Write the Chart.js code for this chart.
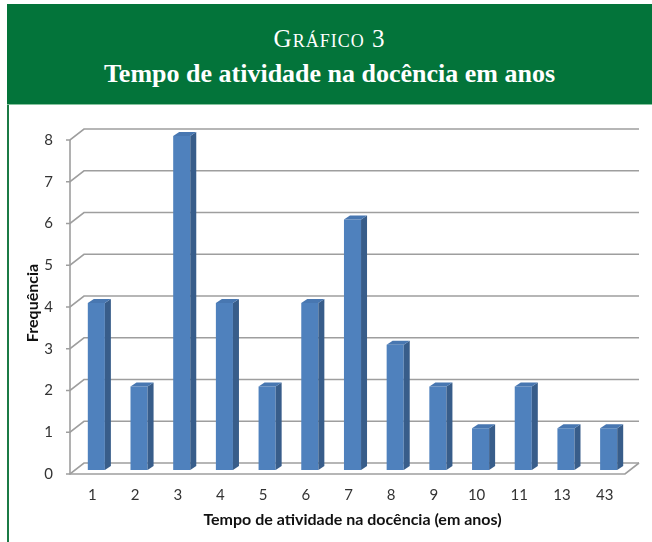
<!DOCTYPE html>
<html>
<head>
<meta charset="utf-8">
<script src="https://cdn.jsdelivr.net/npm/chart.js@4.4.1/dist/chart.umd.min.js"></script>
<style>
    body { margin: 0; background: #fff; width: 652px; height: 542px; position: relative; overflow: hidden; }
    #head {
        position: absolute; left: 7px; top: 4px; width: 645px; height: 100px;
        background: #03743a; border-bottom: 1px solid #86c39e;
        color: #fff; text-align: center; font-family: 'Liberation Serif', serif;
    }
    #head .num { position: absolute; left: 0; right: 0; top: 21px; font-size: 25px; font-variant: small-caps; letter-spacing: 1px; }
    #head .tit { position: absolute; left: 0; right: 0; top: 55px; font-size: 26px; font-weight: bold; }
    #frame { position: absolute; left: 7px; top: 105px; width: 0; height: 437px; border-left: 2px solid #1b7a45; }
    #wrap { position: absolute; left: 8px; top: 105px; width: 644px; height: 437px; }
</style>
</head>
<body>
<div id="head">
    <div class="num">Gráfico 3</div>
    <div class="tit">Tempo de atividade na docência em anos</div>
</div>
<div id="frame"></div>
<div id="wrap"><canvas id="chart"></canvas></div>
<script>
const categories = ['1', '2', '3', '4', '5', '6', '7', '8', '9', '10', '11', '13', '43'];
const frequencies = [4, 2, 8, 4, 2, 4, 6, 3, 2, 1, 2, 1, 1];
const yTicks = [0, 1, 2, 3, 4, 5, 6, 7, 8];

// fundo e piso em perspectiva + faces laterais das colunas
const depth3d = {
    id: 'depth3d',
    beforeDatasetsDraw(chart) {
        const { ctx, chartArea: a, scales: { y } } = chart;
        ctx.save();
        ctx.strokeStyle = '#9e9e9e';
        ctx.lineWidth = 1.6;
        yTicks.forEach(v => {
            const py = y.getPixelForValue(v);
            ctx.beginPath();
            ctx.moveTo(a.left - 9, py + 4);
            ctx.lineTo(a.left - 5, py + 4);
            ctx.lineTo(a.left + 9, py - 7);
            ctx.lineTo(a.right + 9, py - 7);
            ctx.stroke();
        });
        const y0 = y.getPixelForValue(0);
        const yTop = y.getPixelForValue(yTicks[yTicks.length - 1]);
        ctx.beginPath();
        ctx.moveTo(a.left - 5, yTop + 4);
        ctx.lineTo(a.left - 5, y0 + 4);
        ctx.lineTo(a.right - 5, y0 + 4);
        ctx.lineTo(a.right + 9, y0 - 7);
        ctx.stroke();
        ctx.restore();
    },
    afterDatasetsDraw(chart) {
        const { ctx } = chart;
        const dx = 6, dy = 4;
        ctx.save();
        chart.getDatasetMeta(0).data.forEach(bar => {
            const { x, y, base, width } = bar.getProps(['x', 'y', 'base', 'width'], true);
            const l = x - width / 2, r = x + width / 2;
            ctx.fillStyle = '#385d8a';
            ctx.beginPath();
            ctx.moveTo(r, y); ctx.lineTo(r + dx, y - dy);
            ctx.lineTo(r + dx, base - dy); ctx.lineTo(r, base);
            ctx.closePath(); ctx.fill();
            ctx.fillStyle = '#4877b1';
            ctx.beginPath();
            ctx.moveTo(l, y); ctx.lineTo(l + dx, y - dy);
            ctx.lineTo(r + dx, y - dy); ctx.lineTo(r, y);
            ctx.closePath(); ctx.fill();
        });
        ctx.restore();
    }
};

new Chart(document.getElementById('chart'), {
    type: 'bar',
    data: {
        labels: categories,
        datasets: [{
            data: frequencies,
            backgroundColor: '#4f81bd',
            borderWidth: 0,
            barPercentage: 0.4,
            categoryPercentage: 1.0
        }]
    },
    plugins: [depth3d],
    options: {
        responsive: true,
        maintainAspectRatio: false,
        animation: false,
        layout: { padding: { top: 28, right: 22, left: 0, bottom: 0 } },
        plugins: {
            legend: { display: false },
            tooltip: { enabled: false }
        },
        scales: {
            x: {
                grid: { display: false, drawTicks: false },
                border: { display: false },
                ticks: { color: '#333', font: { family: 'Lato', size: 15 }, padding: 16, labelOffset: -4, maxRotation: 0 },
                title: {
                    display: true,
                    text: 'Tempo de atividade na docência (em anos)',
                    color: '#111',
                    font: { family: 'Lato', size: 16, weight: 'bold' },
                    padding: { top: 0, bottom: 13 }
                },
                afterFit: s => { s.height = 72; }
            },
            y: {
                min: 0,
                max: 8,
                grid: { display: false, drawTicks: false },
                border: { display: false },
                ticks: { stepSize: 1, color: '#333', font: { family: 'Lato', size: 15 }, padding: 22, labelOffset: 4 },
                title: {
                    display: true,
                    text: 'Frequência',
                    color: '#111',
                    font: { family: 'Lato', size: 16, weight: 'bold' },
                    padding: { top: 15, bottom: 0 }
                },
                afterFit: s => { s.width = 67; }
            }
        }
    }
});
</script>
</body>
</html>
